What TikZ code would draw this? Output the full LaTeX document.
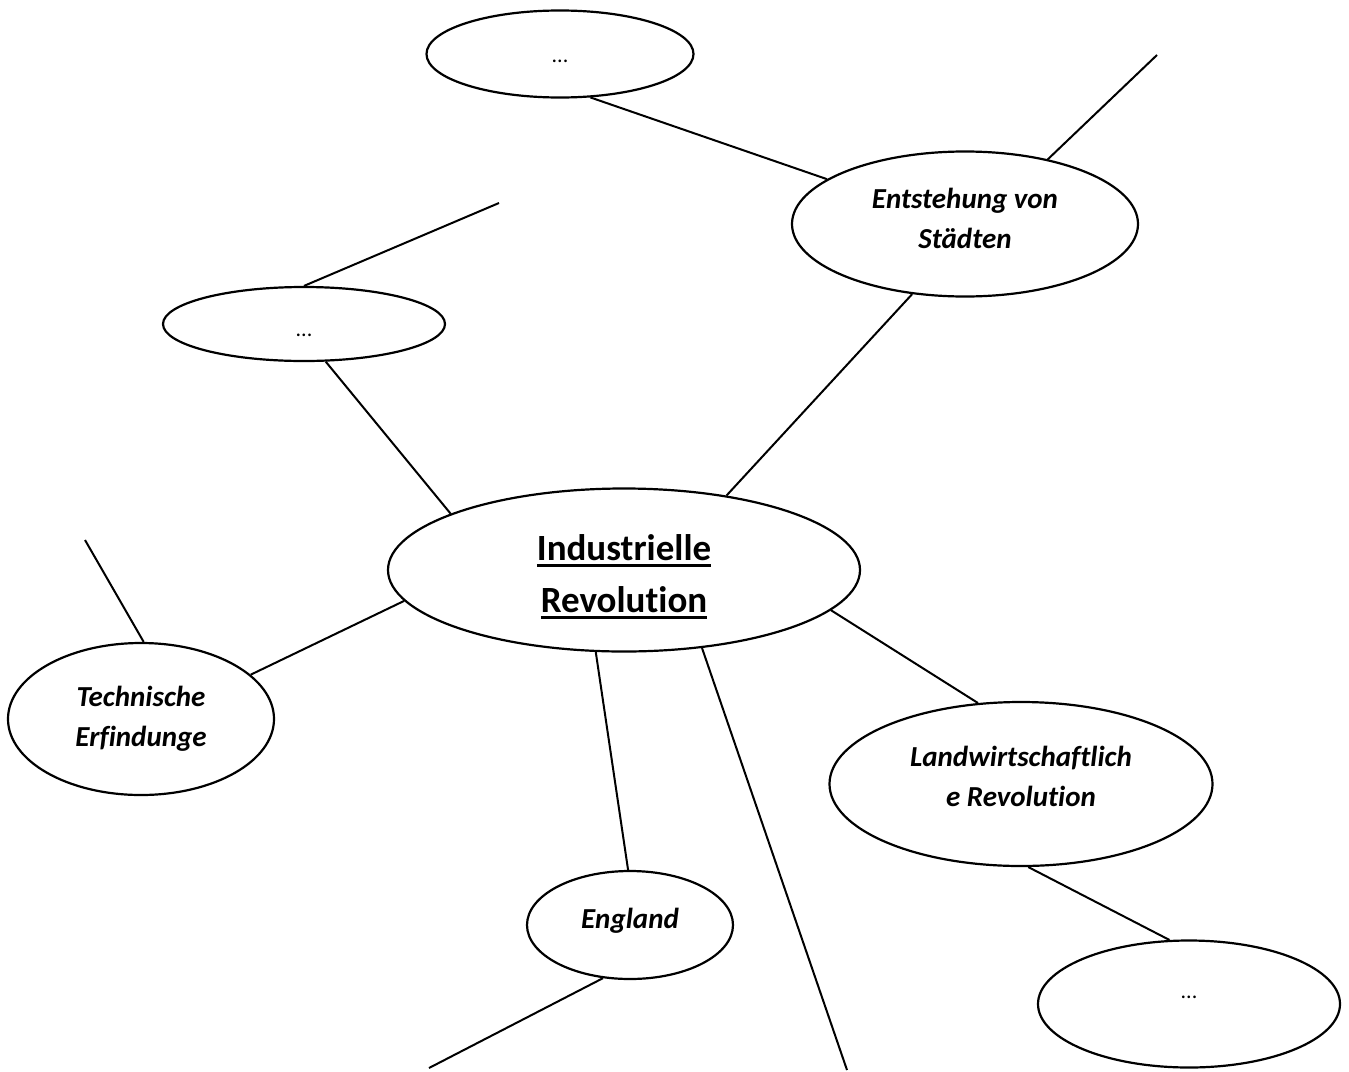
\documentclass[tikz,border=0pt]{standalone}
\usepackage{fontspec}
\setmainfont{Carlito}[Ligatures=CommonOff]
\usetikzlibrary{shapes.geometric}
% heavy underline for the centre title
\newcommand{\thickul}[1]{\setbox0\hbox{#1}\rlap{\rule[-6.5pt]{\wd0}{3pt}}\box0}
% invisible struts to move text inside a bubble
\newcommand{\padbelow}[1]{\rule[-#1]{0pt}{#1}}
\newcommand{\padabove}[1]{\rule{0pt}{#1}}
\begin{document}
\begin{tikzpicture}
        [
          x=1pt, y=-1pt,
          bubble/.style={ellipse, draw, line width=2.2pt, inner sep=0pt},
          topic/.style={align=center, font=\fontsize{37}{52}\selectfont\bfseries},
          entry/.style={align=center, font=\fontsize{29}{40}\selectfont\bfseries\itshape},
          more/.style={font=\fontsize{22}{26}\selectfont},
          link/.style={line width=2pt}
        ]
        \useasboundingbox (0,0) rectangle (1349,1071);
        % centre
        \node [bubble, topic, minimum width=472pt, minimum height=163pt] (ir) at (624,570) {\padabove{39pt}\thickul{Industrielle}\\\thickul{Revolution}};
        % topics round the centre
        \node [bubble, entry, minimum width=346pt, minimum height=145pt] (staedte) at (965,224) {Entstehung von\\Städten\padbelow{12pt}};
        \node [bubble, entry, minimum width=266pt, minimum height=152pt] (technik) at (141,719) {Technische\\Erfindunge};
        \node [bubble, entry, minimum width=383pt, minimum height=164pt] (landwirt) at (1021,784) {Landwirtschaftlich\\e Revolution\padbelow{16pt}};
        \node [bubble, entry, minimum width=206pt, minimum height=108pt] (england) at (630,925) {England\padbelow{14pt}};
        % empty bubbles
        \node [bubble, more, minimum width=267pt, minimum height=87pt, text height=16pt, text depth=0pt] (dotsA) at (560,54) {...};
        \node [bubble, more, minimum width=282pt, minimum height=74pt, text height=24pt, text depth=0pt] (dotsB) at (304,324) {...};
        \node [bubble, more, minimum width=302pt, minimum height=127pt, text height=0pt, text depth=11pt] (dotsC) at (1189,1004) {...};
        % open ends
        \coordinate (openA) at (1157,55);
        \coordinate (openB) at (499,203);
        \coordinate (openC) at (85,540);
        \coordinate (openD) at (847,1070);
        \coordinate (openE) at (429,1068);
        % links between bubbles
        \foreach \a/\b in {ir.36/staedte.-127, ir.162/dotsB.-60, ir.188/technik.22,
                           ir.-109/england.92, ir.-11/landwirt.118,
                           dotsA.-55/staedte.162, landwirt.-85/dotsC.107} {
            \draw [link] (\a) -- (\b);
        }
        % links to nowhere
        \foreach \a/\b in {staedte.38/openA, dotsB.90/openB, technik.88/openC,
                           ir.-45/openD, england.-117/openE} {
            \draw [link] (\a) -- (\b);
        }
\end{tikzpicture}
\end{document}
